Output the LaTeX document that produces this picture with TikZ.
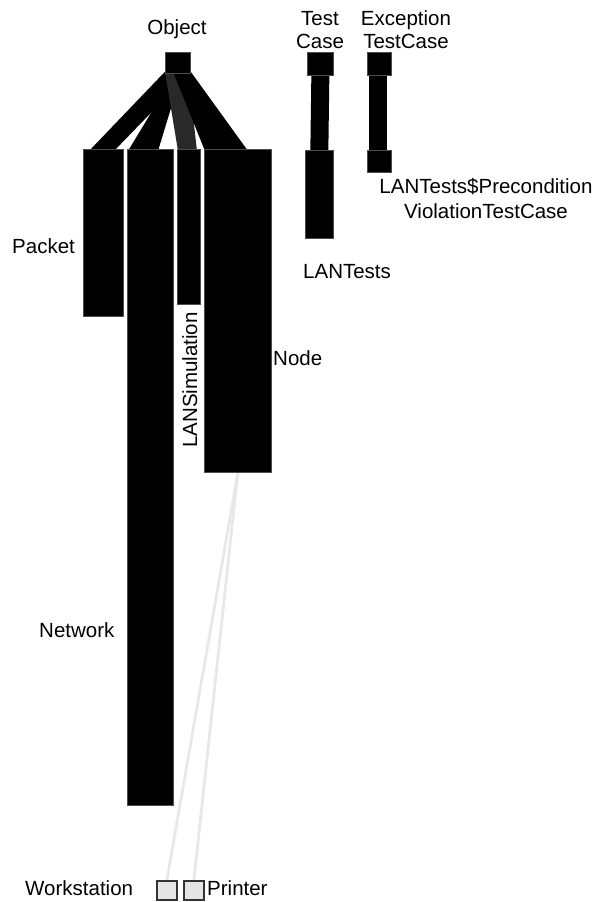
\documentclass[tikz,border=0pt]{standalone}
\usepackage{fontspec}
\setmainfont{Liberation Sans}
\pgfdeclarelayer{bg}
\pgfsetlayers{bg,main}
\begin{document}
\begin{tikzpicture}[x=1pt,y=-1pt,
  cls/.style={fill=black, draw=black!70, line width=0.7pt, inner sep=0pt, anchor=north west},
  leaf/.style={fill=black!10, draw=black!80, line width=1.8pt, inner sep=0pt, anchor=north west, minimum width=20pt, minimum height=19pt},
  inh/.style={fill=black},
  inhgray/.style={fill=black!84},
  inhline/.style={line width=18pt, black, shorten <=-10pt, shorten >=-10pt},
  faint/.style={line width=2.8pt, draw=black!9},
  lbl/.style={font=\fontsize{20.5}{23}\selectfont, inner sep=0pt}
]
\useasboundingbox (0,0) rectangle (598,902);

% class boxes
\node[cls, minimum width=25pt, minimum height=21pt] (object) at (165,52) {};
\node[cls, minimum width=40pt, minimum height=167pt] (packet) at (83,149) {};
\node[cls, minimum width=46pt, minimum height=656pt] (network) at (127,149) {};
\node[cls, minimum width=23pt, minimum height=155pt] (lansim) at (177,149) {};
\node[cls, minimum width=67pt, minimum height=323pt] (nodebox) at (204,149) {};
\node[cls, minimum width=26pt, minimum height=23pt] (testcase) at (307,52) {};
\node[cls, minimum width=28pt, minimum height=88pt] (lantests) at (305,150) {};
\node[cls, minimum width=24pt, minimum height=23pt] (exctc) at (367,52) {};
\node[cls, minimum width=24pt, minimum height=22pt] (precond) at (367,150) {};
\node[leaf] (workstation) at (156,880) {};
\node[leaf] (printer) at (183,880) {};

% connectors
\begin{pgfonlayer}{bg}
\fill[inh] ([yshift=2pt]object.south west) -- ([yshift=2pt]object.south east)
  -- ([xshift=31pt,yshift=-2pt]packet.north west) -- ([xshift=6pt,yshift=-2pt]packet.north west) -- cycle;
\fill[inh] ([xshift=11pt,yshift=2pt]object.south west) -- ([xshift=17pt,yshift=2pt]object.south west)
  -- ([xshift=31pt,yshift=-2pt]network.north west) -- ([xshift=1pt,yshift=-2pt]network.north west) -- cycle;
\fill[inhgray] ([yshift=2pt]object.south west) -- ([xshift=23pt,yshift=2pt]object.south west)
  -- ([xshift=20pt,yshift=-2pt]lansim.north west) -- ([xshift=1pt,yshift=-2pt]lansim.north west) -- cycle;
\fill[inh] ([xshift=8pt,yshift=2pt]object.south west) -- ([yshift=2pt]object.south east)
  -- ([xshift=44pt,yshift=-2pt]nodebox.north west) -- ([xshift=1pt,yshift=-2pt]nodebox.north west) -- cycle;
\draw[inhline] (testcase.south) -- (lantests.north);
\draw[inhline] ([xshift=-1.5pt]exctc.south) -- ([xshift=-1.5pt]precond.north);
\draw[faint] (nodebox.south) -- (workstation.north);
\draw[faint] (nodebox.south) -- (printer.north);
\end{pgfonlayer}

% labels
\node[lbl, anchor=base] (lobject) at (177,34.5) {Object};
\node[lbl, anchor=base] (ltest) at (320,25) {Test};
\node[lbl, anchor=base] (lcase) at (320,48) {Case};
\node[lbl, anchor=base] (lexc) at (406,25) {Exception};
\node[lbl, anchor=base] (lexc2) at (406,48) {TestCase};
\node[lbl, anchor=base west] (llantests) at (303,278) {LANTests};
\node[lbl, anchor=base] (lprec1) at (486,193) {LANTests\$Precondition};
\node[lbl, anchor=base] (lprec2) at (486,218) {ViolationTestCase};
\node[lbl, anchor=base west] (lpacket) at (12,253) {Packet};
\node[lbl, anchor=base west] (lnetwork) at (39,637) {Network};
\node[lbl, anchor=base west] (lnode) at (273,365) {Node};
\node[lbl, anchor=base, rotate=90] (llansim) at (197,380) {LANSimulation};
\node[lbl, anchor=base west] (lws) at (25,895) {Workstation};
\node[lbl, anchor=base west] (lprinter) at (207,895) {Printer};
\end{tikzpicture}
\end{document}
